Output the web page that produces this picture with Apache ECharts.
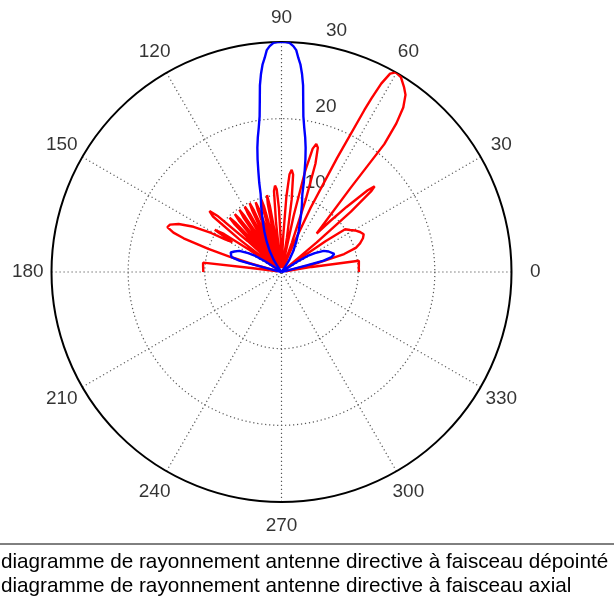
<!DOCTYPE html>
<html><head><meta charset="utf-8">
<script src="https://cdn.jsdelivr.net/npm/echarts@6/dist/echarts.min.js"></script>
<style>html,body{margin:0;padding:0;background:#fff;overflow:hidden}#c{width:614px;height:602px}</style>
</head><body><div id="c"></div>
<script>
// Red: beam steered (dépointé) — angle (deg) / radius
const redAngle = [
0,3,6,8.3,9.5,10.5,
12,14,16,18,20,22.5,24.7,27,29.5,31.5,33.9,35,36,37,
38.5,40,41,42,42.6,43.5,45,46.3,47.6,
50.6,51.2,52.3,53.5,55,56.4,58.5,60.2,61.3,62.1,62.6,62.9,64,65.6,66.8,67.8,
69.5,70.5,71.5,72.6,73.7,74.8,75.8,76.8,77.8,78.8,
80,81,82,83.2,84.3,85.3,86.3,87.3,88.3,
90.3,91.3,92.3,93.3,94.3,95.3,96.3,97.2,
98.6,99.3,100,100.7,101.4,102.1,102.8,
103.5,104.2,104.9,105.6,106.3,107,107.7,
108.2,108.9,109.6,110.3,111,111.7,112.4,
112.7,113.4,114.1,114.8,115.5,116.2,116.9,
117.2,117.9,118.6,119.3,120,120.7,121.4,
121.9,122.7,123.4,124.1,124.9,125.6,126.4,
126.7,127.5,128.2,128.9,129.7,130.4,131.2,
131.5,132.3,133,133.7,134.5,135.3,136.1,
136.6,137.6,138.7,139.8,141,142.2,143.2,
144.2,145.3,146.5,147.7,148.8,
150,151,152.8,155,157,158.5,160,161,162.5,163.5,164.6,166,169,
171.5,172.5,173.2,176,180];
const redR = [
10.1,10.1,10.15,10.2,4,0.5,
1,5,8.5,10.2,10.9,11.5,11.8,11.5,11,10.5,10,7,3,0.5,
0.5,6,12,15.8,16.5,15.5,12,9.2,6.8,
14.2,21.4,24.5,26.7,28.2,28.9,29.8,30,29.5,27.8,25.5,23.7,16.6,9.2,4,1,
0.5,4,10,14.8,16.9,17.3,16.6,13.5,7.5,1,
0.5,4.5,9.5,12.8,13.4,12.8,9.8,4.5,0.5,
0.5,4,8.3,10.8,11.3,10.6,6.5,1,
0.5,4.5,8.8,10.2,9,4.8,0.5,
0.5,5,8.8,9.9,8.8,5,0.5,
0.5,5,8.6,9.7,8.6,5,0.5,
0.5,5,8.8,9.9,8.8,5,0.5,
0.5,5,8.7,9.8,8.7,5,0.5,
0.5,5,8.7,9.8,8.7,5,0.5,
0.5,5,8.6,9.7,8.6,5,0.5,
0.5,5,8.7,9.8,8.7,5,0.5,
0.5,6,11,12.3,11.5,7,0.5,
0.5,5,9,10.3,7.5,
8.5,10.5,12.9,14.8,15.8,16,15,13.5,10,7,4.3,1.5,0.5,
0.5,4,10.3,10.25,10.2];
// Blue: axial beam
const blueAngle = [0,13,14,14.6,15.2,16.5,18.9,21,23.5,26.6,29.5,31.5,33,35,36,52,54,57,60.5,64,67,69,71,73,75,76,77,78,79,80,81,82,82.7,83.4,84.1,84.8,85.5,86.2,87,88,89,90,91,92,93,93.8,94.5,95.2,95.9,96.6,97.3,98,99,100,101,102,103,104,105,107,109,111,113,116,119.5,123,126,128,144,145,147,148.5,150.5,153.4,156.5,159,161.1,163.5,164.8,165.4,166,167,180];
const blueR     = [0,0,1,3.4,5.7,6.8,7.27,7.1,6.7,6.15,5,4,2.5,0.5,0,0,0.6,1.8,3.1,4.4,5.7,6.6,7.8,9.1,10.5,12,13.4,15,16.5,17.8,19,20.5,22.3,24.5,26,27.2,28,29,29.5,29.9,30,30,30,29.9,29.5,29,28,27.2,26,24.5,22.3,20.5,19,17.8,16.5,15,13.4,12,10.5,9.1,7.8,6.6,5.7,4.4,3.1,1.8,0.6,0,0,0.5,2.5,4,5,6.15,6.7,7.1,7.27,6.8,5.7,3.4,1,0,0];
const angleTicks = [0,30,60,90,120,150,180,210,240,270,300,330];
const radialTicks = [10,20,30];
const legendNames = ['diagramme de rayonnement antenne directive à faisceau dépointé','diagramme de rayonnement antenne directive à faisceau axial'];

const FONT = "'Liberation Sans', Arial, Helvetica, sans-serif";
const pair = (A, R) => A.map((a, i) => [R[i], a]);
const chart = echarts.init(document.getElementById('c'), null, {renderer: 'canvas'});
chart.setOption({
  animation: false,
  backgroundColor: '#fff',
  polar: {center: [281.5, 272], radius: 230},
  angleAxis: {
    type: 'value', min: 0, max: 360, interval: 30, startAngle: 0, clockwise: false,
    axisLine: {show: true, lineStyle: {color: '#000', width: 2}},
    axisTick: {show: false}, axisLabel: {show: false},
    splitLine: {show: true, lineStyle: {color: '#555', width: 1.2, type: [1.2, 2.8]}}
  },
  radiusAxis: {
    type: 'value', min: 0, max: 30, interval: 10,
    axisLine: {show: false}, axisTick: {show: false}, axisLabel: {show: false},
    splitLine: {show: true, lineStyle: {color: ['#555', '#555', '#555', 'rgba(0,0,0,0)'], width: 1.2, type: [1.2, 2.8]}}
  },
  legend: {
    orient: 'horizontal', left: -80, top: 544,
    padding: [6, 200, 60, 50], itemGap: 0, itemWidth: 25, itemHeight: 14,
    borderColor: '#000', borderWidth: 1, backgroundColor: '#fff',
    data: [legendNames[0], '\n', legendNames[1]],
    textStyle: {color: '#000', fontSize: 20.7, lineHeight: 24, fontFamily: FONT}
  },
  series: [
    {name: legendNames[0], type: 'line', coordinateSystem: 'polar', data: pair(redAngle, redR),
     showSymbol: false, symbol: 'none', clip: false, lineStyle: {color: '#ff0000', width: 2.4}, itemStyle: {color: '#ff0000'}, z: 3},
    {name: legendNames[1], type: 'line', coordinateSystem: 'polar', data: pair(blueAngle, blueR),
     showSymbol: false, symbol: 'none', clip: false, lineStyle: {color: '#0000ff', width: 2.4}, itemStyle: {color: '#0000ff'}, z: 4},
    {type: 'scatter', coordinateSystem: 'polar', silent: true, clip: false, symbolSize: 1,
     itemStyle: {color: 'rgba(0,0,0,0)'},
     data: angleTicks.map(a => [33.1, a]),
     label: {show: true, position: 'inside', formatter: p => String(p.value[1]), color: '#000', fontSize: 19, fontFamily: FONT}},
    {type: 'scatter', coordinateSystem: 'polar', silent: true, clip: false, symbolSize: 1,
     itemStyle: {color: 'rgba(0,0,0,0)'},
     data: radialTicks.map(r => [r + 0.5, 82]),
     label: {show: true, position: 'inside', align: 'left', verticalAlign: 'bottom', offset: [12, 0],
             formatter: p => String(Math.round(p.value[0] - 0.5)), color: '#000', fontSize: 19, fontFamily: FONT}}
  ]
});
</script></body></html>
